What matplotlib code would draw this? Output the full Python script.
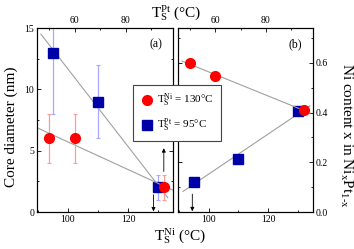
import numpy as np
import matplotlib
matplotlib.use('Agg')
import matplotlib.pyplot as plt
from matplotlib.lines import Line2D
from matplotlib.ticker import MultipleLocator

plt.rcParams['font.family'] = ['Liberation Serif', 'DejaVu Serif']
plt.rcParams['mathtext.fontset'] = 'custom'
plt.rcParams['mathtext.rm'] = 'Liberation Serif'
plt.rcParams['mathtext.it'] = 'Liberation Serif:italic'

# ---- data ----
pt_temps = [50, 60, 95]        # T_S^Pt (top axis), series with T_S^Ni = 130 C
ni_temps = [95, 110, 130]      # T_S^Ni (bottom axis), series with T_S^Pt = 95 C
diam_red = [6, 6, 2]
diam_red_err = [2, 2, 1]
diam_blue = [13, 9, 2]
diam_blue_err = [5, 3, 1]
ni_red = [0.60, 0.545, 0.41]
ni_blue = [0.12, 0.215, 0.405]

# guide (fit) lines
fit_a_red_x = [45.5, 98.8]
fit_a_red_y = [6.85, 1.76]
fit_a_blue_x = [91.0, 133.3]
fit_a_blue_y = [14.5, 1.15]
fit_b_red_x = [46.9, 97.5]
fit_b_red_y = [0.607, 0.398]
fit_b_blue_x = [91.4, 134.0]
fit_b_blue_y = [0.083, 0.427]

# arrows (x, y_from, y_to)
arrow_a_red = (95, 3.3, 5.2)
arrow_a_blue = (128.5, 1.4, 0.05)
arrow_b_red = (50, 0.64, 0.745)
arrow_b_blue = (94.5, 0.072, 0.003)

bottom_ticks = [100, 120]
top_ticks = [60, 80]
left_yticks = [0, 5, 10, 15]
right_yticks = [0.0, 0.2, 0.4, 0.6]

RED = '#ff0000'
BLUE = '#0000a8'
RED_E = '#ff9a9a'
BLUE_E = '#a8a8ff'
GRAY = '#a0a0a0'

W, H = 354, 249
fig = plt.figure(figsize=(W / 100, H / 100), dpi=100)

def frac(x0, y0, x1, y1):
    return [x0 / W, 1 - y1 / H, (x1 - x0) / W, (y1 - y0) / H]

xlim_b = (89.7, 135)
xlim_t = (45.3, 98.6)

def style(ax, top=False):
    ax.tick_params(which='both', direction='in', labelsize=7, width=0.6, pad=2)
    ax.tick_params(which='major', length=3)
    ax.tick_params(which='minor', length=1.6)
    for s in ax.spines.values():
        s.set_linewidth(0.8)

arrow_kw = dict(arrowstyle='-|>', lw=0.6, color='k', mutation_scale=5.5, shrinkA=0, shrinkB=0)

# ---------- panel (a) ----------
ax = fig.add_axes(frac(37, 28, 173, 212))
ax.set_xlim(*xlim_b)
ax.set_ylim(0, 15)
ax.set_xticks(bottom_ticks)
ax.xaxis.set_minor_locator(MultipleLocator(10))
ax.set_yticks(left_yticks)
ax.yaxis.set_minor_locator(MultipleLocator(2.5))
style(ax)
ax.tick_params(which='both', right=True)
ax.plot(fit_a_blue_x, fit_a_blue_y, color=GRAY, lw=0.8, zorder=1)
ax.errorbar(ni_temps, diam_blue, yerr=diam_blue_err, fmt='s', color=BLUE,
            ecolor=BLUE_E, elinewidth=0.9, capsize=1.5, capthick=0.8,
            markersize=6.5, zorder=3)
ax.annotate('', xy=(arrow_a_blue[0], arrow_a_blue[2]),
            xytext=(arrow_a_blue[0], arrow_a_blue[1]), arrowprops=arrow_kw)

axt = ax.twiny()
axt.set_xlim(*xlim_t)
axt.set_xticks(top_ticks)
axt.xaxis.set_minor_locator(MultipleLocator(10))
style(axt)
axt.plot(fit_a_red_x, fit_a_red_y, color=GRAY, lw=0.8, zorder=1)
axt.errorbar(pt_temps, diam_red, yerr=diam_red_err, fmt='o', color=RED,
             ecolor=RED_E, elinewidth=0.9, capsize=1.5, capthick=0.8,
             markersize=7, zorder=3)
axt.annotate('', xy=(arrow_a_red[0], arrow_a_red[2]),
             xytext=(arrow_a_red[0], arrow_a_red[1]), arrowprops=arrow_kw)
axt.text(0.92, 0.91, '(a)', transform=axt.transAxes, ha='right', va='center', fontsize=8.5)

# ---------- panel (b) ----------
bx = fig.add_axes(frac(178, 28, 313, 212))
bx.set_xlim(*xlim_b)
bx.set_ylim(0, 0.74)
bx.set_xticks(bottom_ticks)
bx.xaxis.set_minor_locator(MultipleLocator(10))
bx.set_yticks(right_yticks)
bx.yaxis.set_minor_locator(MultipleLocator(0.1))
bx.yaxis.set_major_formatter(matplotlib.ticker.FormatStrFormatter('%.1f'))
style(bx)
bx.tick_params(which='both', left=True, right=True, labelleft=False, labelright=True)
bx.plot(fit_b_blue_x, fit_b_blue_y, color=GRAY, lw=0.8, zorder=1)
bx.plot(ni_temps, ni_blue, 's', color=BLUE, markersize=6.5, zorder=3)
bx.annotate('', xy=(arrow_b_blue[0], arrow_b_blue[2]),
            xytext=(arrow_b_blue[0], arrow_b_blue[1]), arrowprops=arrow_kw)

bxt = bx.twiny()
bxt.set_xlim(*xlim_t)
bxt.set_xticks(top_ticks)
bxt.xaxis.set_minor_locator(MultipleLocator(10))
style(bxt)
bxt.plot(fit_b_red_x, fit_b_red_y, color=GRAY, lw=0.8, zorder=1)
bxt.plot(pt_temps, ni_red, 'o', color=RED, markersize=7, zorder=3)
bxt.annotate('', xy=(arrow_b_red[0], arrow_b_red[2]),
             xytext=(arrow_b_red[0], arrow_b_red[1]), arrowprops=arrow_kw)
bxt.text(0.92, 0.91, '(b)', transform=bxt.transAxes, ha='right', va='center', fontsize=8.5)

# ---------- labels ----------
fig.text(180 / W, 1 - 236 / H, r'$\mathrm{T}_\mathrm{S}^\mathrm{Ni}$ (°C)', ha='center', va='center', fontsize=11)
fig.text(176 / W, 1 - 13 / H, r'$\mathrm{T}_\mathrm{S}^\mathrm{Pt}$ (°C)', ha='center', va='center', fontsize=11)
fig.text(11 / W, 1 - 127 / H, 'Core diameter (nm)', rotation=90, ha='center', va='center', fontsize=11)
fig.text(346 / W, 1 - 135 / H, r'Ni content x in Ni$_\mathrm{x}$Pt$_\mathrm{1\text{-}x}$',
         rotation=270, ha='center', va='center', fontsize=11)

handles = [Line2D([], [], marker='o', ls='none', color=RED, markersize=7),
           Line2D([], [], marker='s', ls='none', color=BLUE, markersize=6.5)]
labels = [r'$\mathrm{T}_\mathrm{S}^\mathrm{Ni}$ = 130°C', r'$\mathrm{T}_\mathrm{S}^\mathrm{Pt}$ = 95°C']
leg = fig.legend(handles, labels, loc='upper left', bbox_to_anchor=(133 / W, 1 - 85 / H),
                 fontsize=8, frameon=True, fancybox=False, borderaxespad=0,
                 handletextpad=0.2, handlelength=1.4, labelspacing=0.7, borderpad=0.6)
leg.get_frame().set_edgecolor('#444444')
leg.get_frame().set_linewidth(0.8)
leg.get_frame().set_alpha(1)

fig.savefig('out.png', dpi=100)
